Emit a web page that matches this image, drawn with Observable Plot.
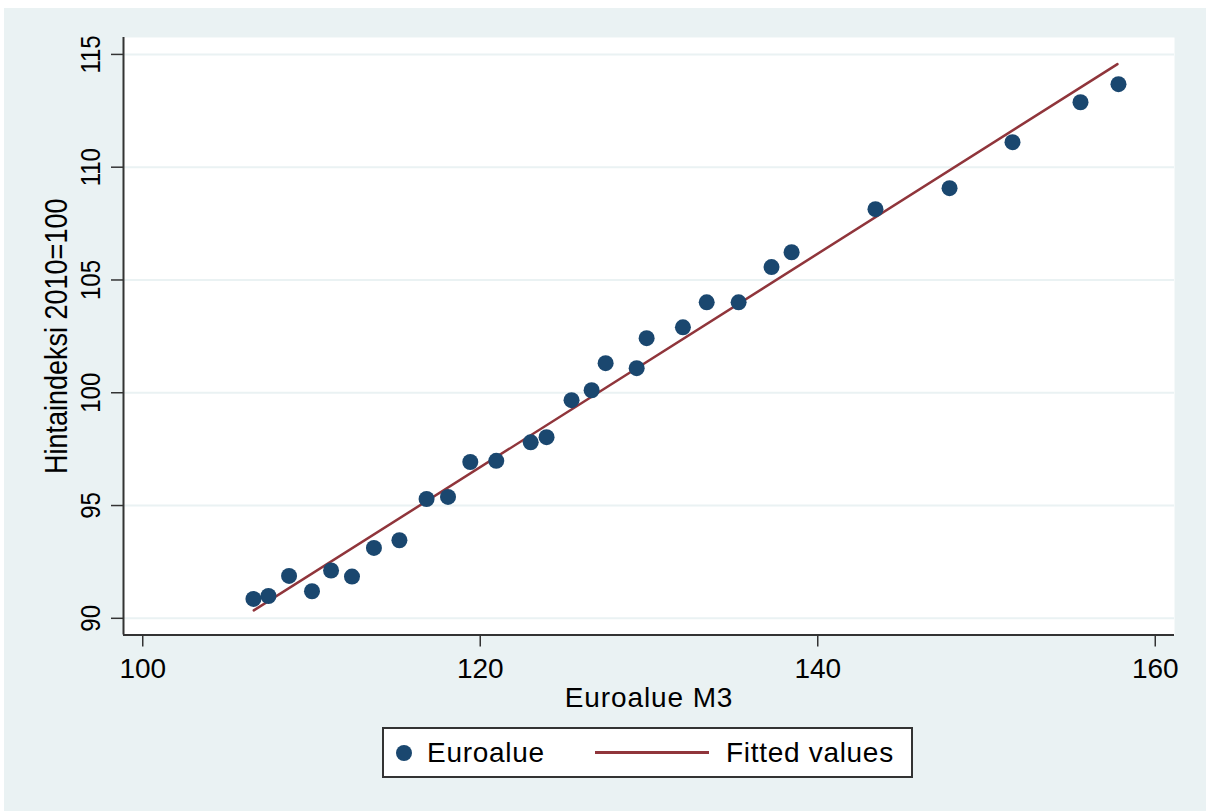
<!DOCTYPE html>
<html>
<head>
<meta charset="utf-8">
<script src="https://cdn.jsdelivr.net/npm/d3@7"></script>
<script src="https://cdn.jsdelivr.net/npm/@observablehq/plot@0.6"></script>
<style>
  html, body { margin: 0; padding: 0; background: #ffffff; }
  body { width: 1206px; height: 811px; position: relative; overflow: hidden;
         font-family: "Liberation Sans", Arial, Helvetica, sans-serif; }
  #bg { position: absolute; left: 4px; top: 8px; width: 1202px; height: 803px; background: #eaf2f3; }
  #chart { position: absolute; left: 0; top: 0; }
  #legend { position: absolute; left: 382px; top: 727px; width: 531px; height: 51px;
            box-sizing: border-box; border: 2px solid #333; background: #fff; }
  #legend .item { position: absolute; top: 0; height: 47px; line-height: 47px; font-size: 28px;
                  letter-spacing: 0.7px; color: #000; }
  #legend .dot { position: absolute; left: 12px; top: 15.5px; width: 16px; height: 16px; border-radius: 50%; }
  #legend .swatch { position: absolute; left: 211px; top: 22px; width: 114px; height: 2.5px; }
</style>
</head>
<body>
<div id="bg"></div>
<div id="chart"></div>
<div id="legend">
  <div class="dot"></div>
  <div class="item" style="left:43px">Euroalue</div>
  <div class="swatch"></div>
  <div class="item" style="left:342px">Fitted values</div>
</div>
<script>
// Euro area M3 money supply vs. price index (2010 = 100)
const m3 = [106.56, 107.45, 108.67, 110.03, 111.16, 112.40, 113.70, 115.21, 116.82, 118.09,
            119.41, 120.95, 122.99, 123.93, 125.41, 126.60, 127.43, 129.27, 129.86, 132.01,
            133.42, 135.31, 137.26, 138.45, 143.42, 147.81, 151.54, 155.57, 157.82];
const priceIndex = [90.86, 90.99, 91.88, 91.20, 92.12, 91.85, 93.12, 93.46, 95.29, 95.38,
                    96.93, 96.98, 97.80, 98.03, 99.67, 100.11, 101.31, 101.09, 102.42, 102.90,
                    104.01, 104.01, 105.57, 106.23, 108.14, 109.07, 111.11, 112.88, 113.68];

// Linear fit, drawn between its two end points
const fitM3 = [106.58, 157.76];
const fitIndex = [90.35, 114.57];

const xTicks = [100, 120, 140, 160];
const yTicks = [90, 95, 100, 105, 110, 115];

const xLabel = "Euroalue M3";
const yLabel = "Hintaindeksi 2010=100";
const seriesNames = ["Euroalue", "Fitted values"];

const dotColor = "#1a476f";
const lineColor = "#90353b";
const gridColor = "#eaf2f3";
const axisColor = "#333333";

const points = m3.map((x, i) => ({x, y: priceIndex[i]}));
const fit = fitM3.map((x, i) => ({x, y: fitIndex[i]}));

const xDomain = [98.86, 161.14];
const yDomain = [89.26, 115.75];

const chart = Plot.plot({
  width: 1206,
  height: 720,
  marginLeft: 123,
  marginRight: 32,
  marginTop: 37,
  marginBottom: 85.5,
  style: {background: "transparent", fontFamily: "'Liberation Sans', Arial, Helvetica, sans-serif", color: "#000"},
  x: {domain: xDomain},
  y: {domain: yDomain},
  marks: [
    Plot.frame({fill: "white", stroke: "none"}),
    Plot.gridY(yTicks, {stroke: gridColor, strokeOpacity: 1, strokeWidth: 2}),
    Plot.ruleX([xDomain[0]], {stroke: axisColor, strokeWidth: 2}),
    Plot.ruleY([yDomain[0]], {stroke: axisColor, strokeWidth: 2}),
    Plot.axisX(xTicks, {tickSize: 12, tickPadding: 11, fontSize: 28, stroke: axisColor, fill: "#000", label: null, strokeWidth: 1.5}),
    Plot.axisY(yTicks, {tickSize: 12, stroke: axisColor, strokeWidth: 1.5, tickFormat: () => "", label: null}),
    // rotated y tick labels
    Plot.text(yTicks, {y: d => d, text: d => String(d), frameAnchor: "left", dx: -24,
                       rotate: -90, textAnchor: "middle", lineAnchor: "bottom", fontSize: 24, fill: "#000"}),
    // y axis title
    Plot.text([yLabel], {frameAnchor: "left", dx: -67, rotate: -90, textAnchor: "middle",
                         lineAnchor: "middle", fontSize: 27, fill: "#000"}),
    // x axis title
    Plot.text([xLabel], {frameAnchor: "bottom", dy: 72, textAnchor: "middle",
                         lineAnchor: "bottom", fontSize: 28, fill: "#000", letterSpacing: 0.9}),
    Plot.line(fit, {x: "x", y: "y", stroke: lineColor, strokeWidth: 2.5}),
    Plot.dot(points, {x: "x", y: "y", r: 8, fill: dotColor, stroke: "none"})
  ]
});
document.getElementById("chart").appendChild(chart);

// Widen the vertical labels slightly across their line height
const textGroups = chart.querySelectorAll('g[aria-label="text"]');
[0, 1].forEach(k => {
  if (!textGroups[k]) return;
  textGroups[k].querySelectorAll("text").forEach(t => {
    const tr = t.getAttribute("transform") || "";
    t.setAttribute("transform", tr + " scale(1,1.18)");
  });
});
if (textGroups[2]) textGroups[2].querySelectorAll("text").forEach(t => t.style.letterSpacing = "0.9px");

document.querySelector("#legend .dot").style.background = dotColor;
document.querySelector("#legend .swatch").style.background = lineColor;
const items = document.querySelectorAll("#legend .item");
items[0].textContent = seriesNames[0];
items[1].textContent = seriesNames[1];
</script>
</body>
</html>
